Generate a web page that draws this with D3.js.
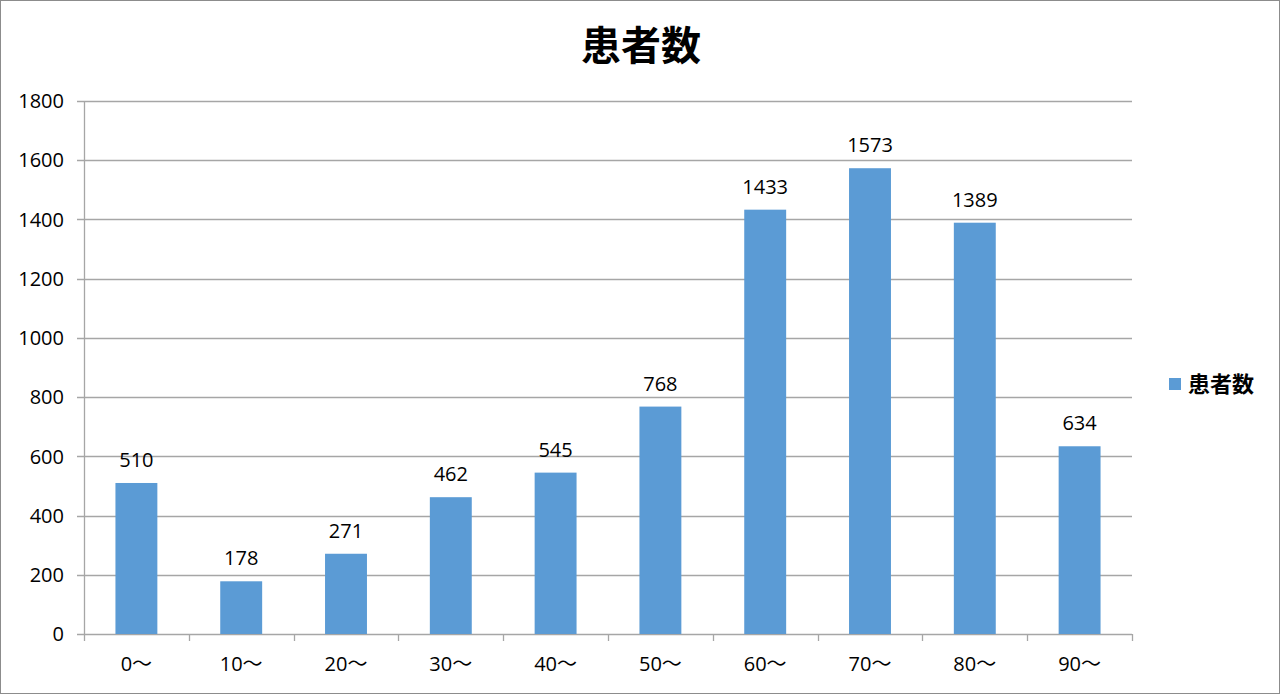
<!DOCTYPE html>
<html>
<head>
<meta charset="utf-8">
<script src="https://cdn.jsdelivr.net/npm/d3@7"></script>
<style>
  body { margin: 0; background: #fff; }
  text { font-family: "Open Sans", "Noto Sans CJK JP", sans-serif; fill: #000; }
</style>
</head>
<body>
<div id="chart"></div>
<script>
// data
var categories = ["0～", "10～", "20～", "30～", "40～", "50～", "60～", "70～", "80～", "90～"];
var patients = [510, 178, 271, 462, 545, 768, 1433, 1573, 1389, 634];
var yTicks = [0, 200, 400, 600, 800, 1000, 1200, 1400, 1600, 1800];
var seriesName = "患者数";

var W = 1280, H = 694;
var margin = {top: 101, left: 84, right: 148, bottom: 60};
var width = W - margin.left - margin.right,
    height = H - margin.top - margin.bottom;

var svg = d3.select("#chart").append("svg")
    .attr("width", W)
    .attr("height", H);

// outer border
svg.append("rect")
    .attr("x", 0.5).attr("y", 0.5)
    .attr("width", W - 1).attr("height", H - 1)
    .attr("fill", "#fff")
    .attr("stroke", "#8c8c8c");

// title
svg.append("text")
    .attr("x", 641)
    .attr("y", 60)
    .attr("text-anchor", "middle")
    .style("font-family", "'Noto Sans CJK JP'")
    .style("font-size", "40px")
    .style("font-weight", "bold")
    .text(seriesName);

var g = svg.append("g")
    .attr("transform", "translate(" + margin.left + "," + margin.top + ")");

var y = d3.scaleLinear()
    .domain([0, 1800])
    .range([height, 0]);

var x = d3.scaleBand()
    .domain(categories)
    .range([0, width])
    .paddingInner(0.6)
    .paddingOuter(0.3);

// gridlines
g.selectAll(".grid")
    .data(yTicks)
    .enter().append("line")
    .attr("class", "grid")
    .attr("x1", -7)
    .attr("x2", width)
    .attr("y1", function(d){ return Math.round(y(d)) + 0.5; })
    .attr("y2", function(d){ return Math.round(y(d)) + 0.5; })
    .attr("stroke", "#a6a6a6")
    .attr("stroke-width", 1.3);

// y axis labels
g.selectAll(".ylab")
    .data(yTicks)
    .enter().append("text")
    .attr("class", "ylab")
    .attr("x", -20)
    .attr("y", function(d){ return y(d); })
    .attr("dy", "0.36em")
    .attr("text-anchor", "end")
    .style("font-size", "20px")
    .text(function(d){ return d; });

// y axis line
g.append("line")
    .attr("x1", 0.5).attr("x2", 0.5)
    .attr("y1", 0).attr("y2", height)
    .attr("stroke", "#a6a6a6")
    .attr("stroke-width", 1.3);

// x axis ticks at band boundaries
var bounds = d3.range(categories.length + 1).map(function(i){ return i * width / categories.length; });
g.selectAll(".xtick")
    .data(bounds)
    .enter().append("line")
    .attr("class", "xtick")
    .attr("x1", function(d){ return Math.round(d) + 0.5; })
    .attr("x2", function(d){ return Math.round(d) + 0.5; })
    .attr("y1", height)
    .attr("y2", height + 7)
    .attr("stroke", "#a6a6a6")
    .attr("stroke-width", 1.3);

// bars
g.selectAll(".bar")
    .data(patients)
    .enter().append("rect")
    .attr("class", "bar")
    .attr("x", function(d, i){ return x(categories[i]); })
    .attr("y", function(d){ return y(d); })
    .attr("width", x.bandwidth())
    .attr("height", function(d){ return height - y(d); })
    .attr("fill", "#5b9bd5");

// data labels
g.selectAll(".vlab")
    .data(patients)
    .enter().append("text")
    .attr("class", "vlab")
    .attr("x", function(d, i){ return x(categories[i]) + x.bandwidth() / 2; })
    .attr("y", function(d){ return y(d) - 16; })
    .attr("text-anchor", "middle")
    .style("font-size", "20px")
    .text(function(d){ return d; });

// x labels
g.selectAll(".xlab")
    .data(categories)
    .enter().append("text")
    .attr("class", "xlab")
    .attr("x", function(d){ return x(d) + x.bandwidth() / 2; })
    .attr("y", height + 37)
    .attr("text-anchor", "middle")
    .style("font-size", "20px")
    .text(function(d){ return d; });

// legend
var legend = svg.append("g")
    .attr("transform", "translate(1169,378)");
legend.append("rect")
    .attr("width", 12).attr("height", 12)
    .attr("fill", "#5b9bd5");
legend.append("text")
    .attr("x", 19)
    .attr("y", 6)
    .attr("dy", "0.36em")
    .style("font-family", "'Noto Sans CJK JP'")
    .style("font-size", "22px")
    .style("font-weight", "bold")
    .text(seriesName);
</script>
</body>
</html>
